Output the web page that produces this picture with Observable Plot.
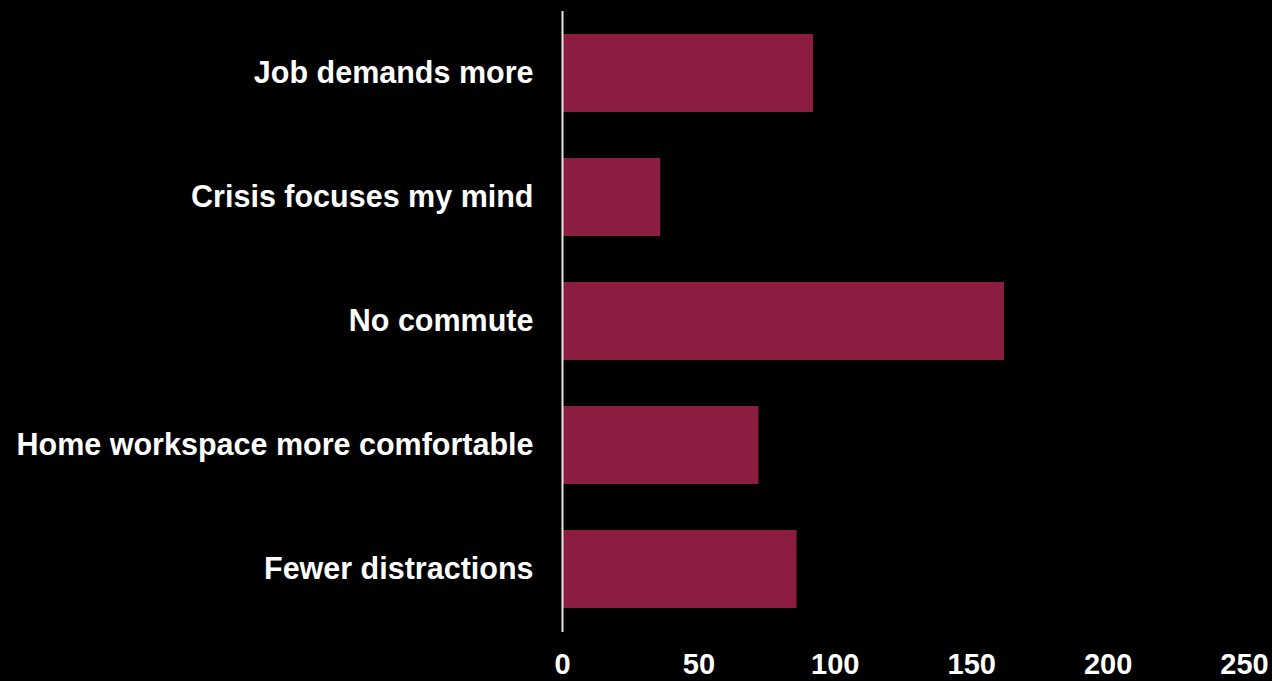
<!DOCTYPE html>
<html>
<head>
<meta charset="utf-8">
<script src="https://cdn.jsdelivr.net/npm/d3@7"></script>
<script src="https://cdn.jsdelivr.net/npm/@observablehq/plot@0.6"></script>
<style>
  html, body { margin: 0; padding: 0; background: #000; overflow: hidden; }
  #chart svg { display: block; }
</style>
</head>
<body>
<div id="chart"></div>
<script>
const categories = [
  "Job demands more",
  "Crisis focuses my mind",
  "No commute",
  "Home workspace more comfortable",
  "Fewer distractions"
];
const values = [92, 36, 162, 72, 86];
const xTicks = [0, 50, 100, 150, 200, 250];

const data = categories.map((c, i) => ({category: c, value: values[i]}));

const chart = Plot.plot({
  width: 1272,
  height: 681,
  marginTop: 11,
  marginBottom: 49,
  marginLeft: 562,
  marginRight: 28,
  style: {
    background: "#000",
    color: "#fff",
    fontFamily: "'Liberation Sans', Arial, sans-serif",
    fontSize: "30px",
    fontWeight: "bold",
    overflow: "visible"
  },
  x: {domain: [0, 250]},
  y: {domain: categories, paddingInner: 0.37, paddingOuter: 0.185},
  marks: [
    Plot.barX(data, {x: "value", y: "category", fill: "#8c1d40"}),
    Plot.ruleX([0], {stroke: "#e6e6e6", strokeWidth: 2}),
    Plot.axisX({ticks: xTicks, tickSize: 0, tickPadding: 21, label: null, fontSize: 29, fontWeight: "bold", fill: "#fff"}),
    Plot.axisY({tickSize: 0, tickPadding: 29, label: null, fontSize: 30.5, fontWeight: "bold", fill: "#fff"})
  ]
});
document.getElementById("chart").appendChild(chart);
</script>
</body>
</html>
